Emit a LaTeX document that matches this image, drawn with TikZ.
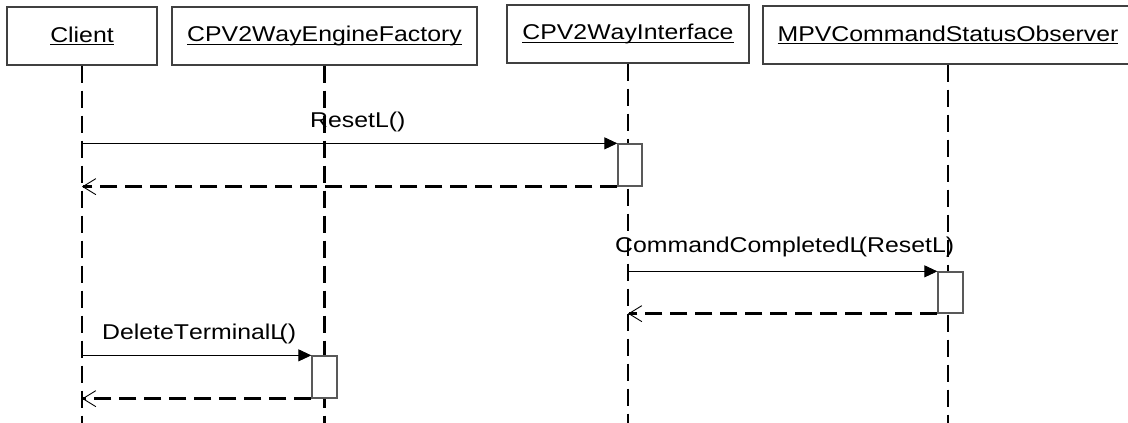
\documentclass[tikz,border=0pt]{standalone}
\usepackage{fontspec}
\usepackage{graphicx}
\setmainfont{Liberation Sans}[Kerning=Off]
\usetikzlibrary{arrows.meta}
\newcommand\myul[1]{\setbox0\hbox{#1}\rlap{\rule[-3.2pt]{\wd0}{1.2pt}}\box0}
\newcommand\lbl[1]{\scalebox{1.16}[1]{\fontsize{21.4}{24}\selectfont #1}}
\tikzset{
  obj/.style={draw=black!75, line width=1.3pt, fill=white, inner sep=0pt, align=center},
  actbox/.style={draw=black!65, line width=1.3pt, fill=white, inner sep=0pt},
  lifeline/.style={line width=2.8pt, dash pattern=on 17pt off 8pt},
  call/.style={line width=0.9pt, -{Triangle[length=13pt,width=12pt]}},
  ret/.style={line width=2.8pt, dash pattern=on 17pt off 8pt, -{Straight Barb[length=13pt,width=16pt,line width=0.9pt]}},
  msg/.style={inner sep=0pt, anchor=base west}
}
\begin{document}
\begin{tikzpicture}[x=1pt,y=-1pt]
\useasboundingbox (0,0) rectangle (1128,423);
\clip (0,0) rectangle (1128,423);
\fill[white] (0,0) rectangle (1128,423);
% objects
\node[obj, minimum width=150pt, minimum height=58pt] (client) at (82,36) {\lbl{\myul{Client}}};
\node[obj, minimum width=305pt, minimum height=58pt] (factory) at (324.5,36) {\lbl{\myul{CPV2WayEngineFactory}}};
\node[obj, minimum width=242pt, minimum height=58pt] (iface) at (628,34) {\lbl{\myul{CPV2WayInterface}}};
\node[obj, minimum width=370pt, minimum height=58pt] (obs) at (948,35) {\lbl{\myul{MPVCommandStatusObserver}}};
% lifeline ends
\coordinate (clientEnd) at (82,423);
\coordinate (factoryEnd) at (324.5,423);
\coordinate (ifaceEnd) at (628,423);
\coordinate (obsEnd) at (948,423);
\draw[lifeline] (client.south) -- (clientEnd);
\draw[lifeline] (factory.south) -- (factoryEnd);
\draw[lifeline] (iface.south) -- (ifaceEnd);
\draw[lifeline] (obs.south) -- (obsEnd);
% activations
\node[actbox, minimum width=24pt, minimum height=42pt] (act1) at (630,165) {};
\node[actbox, minimum width=25pt, minimum height=41pt] (act2) at (950.5,292.5) {};
\node[actbox, minimum width=25pt, minimum height=42pt] (act3) at (324.5,377) {};
% messages
\draw[call] (client.south |- act1.north west) -- (act1.north west);
\draw[ret] (act1.south west) -- (client.south |- act1.south west);
\draw[call] (iface.south |- act2.north west) -- (act2.north west);
\draw[ret] (act2.south west) -- (iface.south |- act2.south west);
\draw[call] (client.south |- act3.north west) -- (act3.north west);
\draw[ret] (act3.south west) -- (client.south |- act3.south west);
% labels
\node[msg] (l1) at (310,127) {\lbl{ResetL()}};
\node[msg] (l2) at (615,252) {\lbl{CommandCompletedL\kern-4pt(ResetL)}};
\node[msg] (l3) at (102,339) {\lbl{DeleteTerminalL\kern-4pt()}};
\end{tikzpicture}
\end{document}
